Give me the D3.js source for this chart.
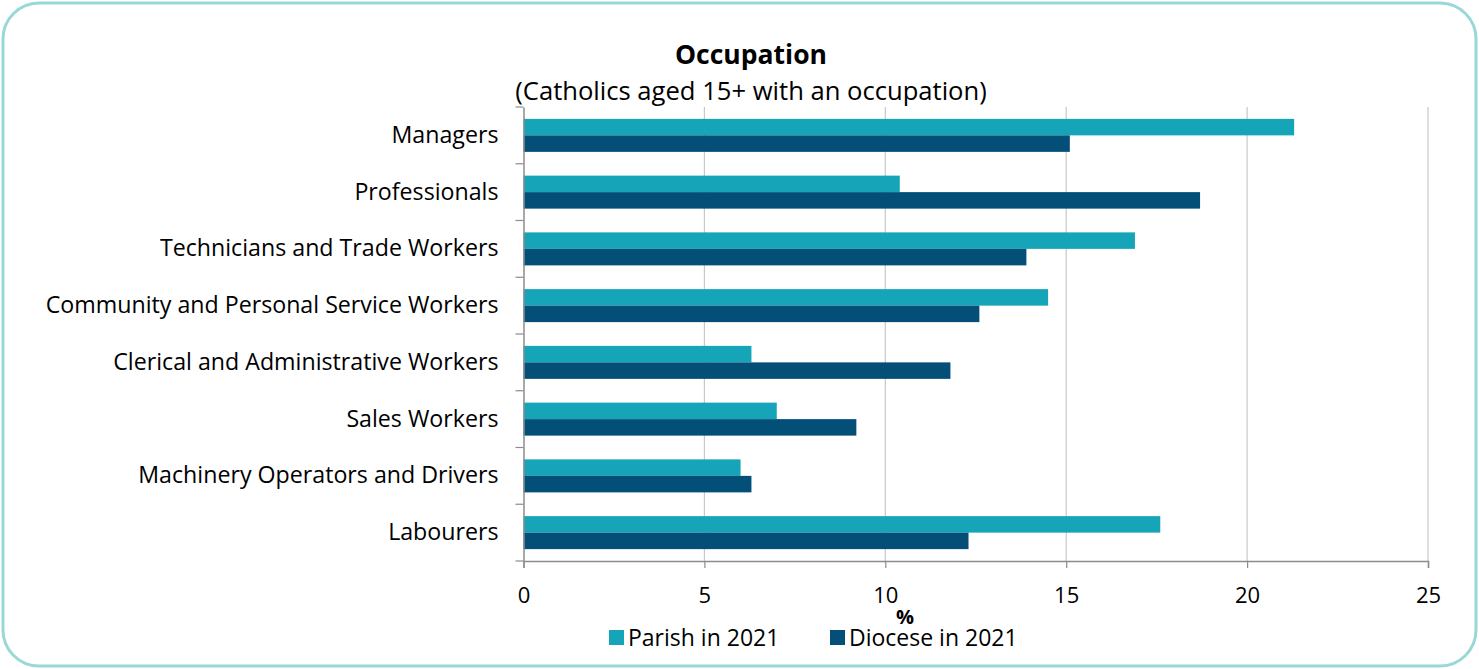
<!DOCTYPE html>
<html><head><meta charset="utf-8">
<script src="https://cdn.jsdelivr.net/npm/d3@7"></script>
<style>body{margin:0;background:#fff}svg{display:block}</style>
</head><body>
<svg id="c" width="1479" height="669"></svg>
<script>
const categories = ["Managers","Professionals","Technicians and Trade Workers","Community and Personal Service Workers","Clerical and Administrative Workers","Sales Workers","Machinery Operators and Drivers","Labourers"];
const seriesNames = ["Parish in 2021","Diocese in 2021"];
const parish = [21.3,10.4,16.9,14.5,6.3,7.0,6.0,17.6];
const diocese = [15.1,18.7,13.9,12.6,11.8,9.2,6.3,12.3];
const xTicks = [0,5,10,15,20,25];
const colors = ["#16a4b8","#034f77"];
const FONT = "Open Sans, sans-serif";

const svg = d3.select("#c");
svg.append("rect").attr("x",3).attr("y",3).attr("width",1473).attr("height",663)
  .attr("rx",36).attr("ry",36).attr("fill","#fff").attr("stroke","#9ad8d8").attr("stroke-width",3);

const L=523.5, R=1428, T=107, B=561;
const x = d3.scaleLinear().domain([0,25]).range([L,R]);
const y = d3.scaleBand().domain(categories).range([T,B]);
const inner = d3.scaleBand().domain(seriesNames).range([0,y.bandwidth()]).paddingOuter(0.72).paddingInner(0);

// gridlines
svg.append("g").selectAll("line").data(xTicks.slice(1)).join("line")
  .attr("x1",d=>x(d)).attr("x2",d=>x(d)).attr("y1",T).attr("y2",B)
  .attr("stroke","#c8c8c8").attr("stroke-width",1.2);

// bars
const series = [parish, diocese];
series.forEach((vals,si)=>{
  svg.append("g").selectAll("rect").data(categories).join("rect")
    .attr("x",x(0)).attr("y",(d)=>y(d)+inner(seriesNames[si]))
    .attr("width",(d,i)=>x(vals[i])-x(0)).attr("height",inner.bandwidth())
    .attr("fill",colors[si]);
});

// x axis
const xa = svg.append("g").attr("transform",`translate(0,${B})`)
  .call(d3.axisBottom(x).tickValues(xTicks).tickSize(7).tickPadding(19));
xa.select(".domain").attr("stroke","#8c8c8c").attr("stroke-width",1.5);
xa.selectAll(".tick line").attr("stroke","#8c8c8c").attr("stroke-width",1.2);
xa.selectAll("text").attr("font-family",FONT).attr("font-size",22).attr("fill","#000");

// y axis
const ya = svg.append("g").attr("transform",`translate(${L},0)`)
  .call(d3.axisLeft(y).tickSize(0).tickPadding(25));
ya.select(".domain").attr("stroke","#8c8c8c").attr("stroke-width",1.5);
ya.selectAll("text").attr("font-family",FONT).attr("font-size",23.2).attr("fill","#000");
// boundary ticks
svg.append("g").selectAll("line").data(d3.range(categories.length+1)).join("line")
  .attr("x1",L-8).attr("x2",L).attr("y1",i=>T+i*y.step()).attr("y2",i=>T+i*y.step())
  .attr("stroke","#8c8c8c").attr("stroke-width",1.2);

// titles
svg.append("text").attr("x",751).attr("y",64).attr("text-anchor","middle")
  .attr("font-family",FONT).attr("font-weight","bold").attr("font-size",26.5).text("Occupation");
svg.append("text").attr("x",751).attr("y",100).attr("text-anchor","middle")
  .attr("font-family",FONT).attr("font-size",25.6).text("(Catholics aged 15+ with an occupation)");
svg.append("text").attr("x",905).attr("y",624).attr("text-anchor","middle")
  .attr("font-family",FONT).attr("font-weight","bold").attr("font-size",20).text("%");

// legend
const legX = [609,830];
seriesNames.forEach((n,i)=>{
  svg.append("rect").attr("x",legX[i]).attr("y",630).attr("width",15).attr("height",15).attr("fill",colors[i]);
  svg.append("text").attr("x",legX[i]+19).attr("y",646).attr("font-family",FONT).attr("font-size",23).text(n);
});
</script>
</body></html>
